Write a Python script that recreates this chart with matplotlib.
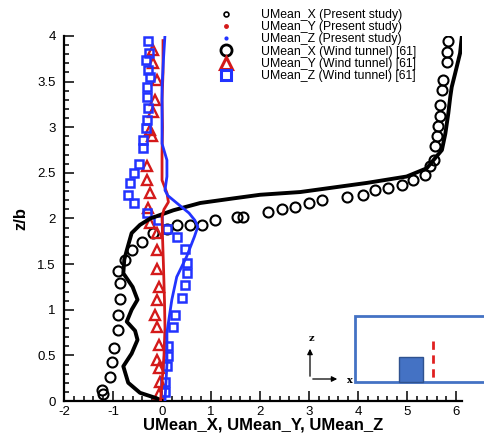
import matplotlib
matplotlib.use("Agg")
import matplotlib.pyplot as plt
from matplotlib.lines import Line2D
from matplotlib.patches import Rectangle, FancyArrowPatch
from matplotlib.ticker import MultipleLocator, FormatStrFormatter

plt.rcParams["font.family"] = ["Liberation Sans", "DejaVu Sans"]
plt.rcParams["axes.unicode_minus"] = False

# present study (CFD) profiles
cfd_x_z = [0.0, 0.03, 0.09, 0.2, 0.38, 0.52, 0.67, 0.77, 0.87, 1.0, 1.11, 1.25, 1.4, 1.55, 1.65,
           1.84, 1.93, 2.0, 2.09, 2.17, 2.22, 2.26, 2.29, 2.39, 2.46, 2.55, 2.68, 2.75, 2.93, 3.15,
           3.33, 3.44, 3.59, 3.81, 4.01]
cfd_x = [0.0, -0.11, -0.45, -0.69, -0.79, -0.62, -0.5, -0.55, -0.72, -0.62, -0.5, -0.6, -0.79, -0.77, -0.72,
         -0.62, -0.45, -0.24, 0.23, 0.78, 1.45, 2.0, 2.82, 4.18, 4.99, 5.4, 5.6, 5.71, 5.78, 5.84,
         5.88, 5.91, 5.98, 6.08, 6.12]

cfd_y_z = [0.0, 0.2, 0.5, 0.8, 1.1, 1.47, 1.8, 2.02, 2.1, 2.18, 2.28, 2.42, 2.7, 3.0, 3.3, 3.6, 3.95]
cfd_y = [-0.03, 0.0, 0.04, 0.06, 0.05, 0.03, 0.01, 0.0, 0.04, 0.13, 0.1, 0.0, 0.0, 0.01, 0.0, 0.02, 0.02]

cfd_zc_z = [0.0, 0.2, 0.4, 0.75, 1.11, 1.36, 1.58, 1.8, 1.91, 1.98, 2.06, 2.17, 2.25, 2.31, 2.46, 2.64,
            2.82, 3.1, 3.44, 3.75, 4.01]
cfd_zc = [0.06, 0.08, 0.1, 0.1, 0.2, 0.3, 0.5, 0.66, 0.73, 0.67, 0.55, 0.3, 0.12, 0.06, 0.1, 0.1,
          0.0, 0.0, 0.0, 0.03, 0.06]

# wind tunnel data [61]
wt_x_z = [3.94, 3.83, 3.72, 3.52, 3.41, 3.24, 3.12, 3.01, 2.9, 2.79, 2.64, 2.57, 2.48, 2.42, 2.37,
          2.33, 2.31, 2.26, 2.24, 2.2, 2.17, 2.13, 2.1, 2.07, 2.02, 2.02, 1.98, 1.93, 1.93, 1.93,
          1.89, 1.84, 1.74, 1.65, 1.54, 1.43, 1.29, 1.12, 0.94, 0.78, 0.58, 0.43, 0.26, 0.12, 0.08]
wt_x = [5.84, 5.81, 5.81, 5.74, 5.71, 5.67, 5.67, 5.64, 5.6, 5.57, 5.54, 5.47, 5.37, 5.13, 4.89,
        4.62, 4.35, 4.11, 3.77, 3.26, 2.99, 2.71, 2.44, 2.17, 1.66, 1.52, 1.08, 0.81, 0.57, 0.3,
        0.1, -0.18, -0.41, -0.62, -0.76, -0.89, -0.86, -0.86, -0.89, -0.89, -0.99, -1.03, -1.06, -1.23, -1.2]

wt_y_z = [3.85, 3.7, 3.52, 3.3, 3.17, 2.97, 2.9, 2.57, 2.42, 2.28, 2.11, 1.95, 1.84, 1.65, 1.45,
          1.25, 1.11, 0.94, 0.81, 0.61, 0.45, 0.36, 0.21, 0.08]
wt_y = [-0.18, -0.18, -0.11, -0.14, -0.18, -0.24, -0.21, -0.31, -0.31, -0.24, -0.28, -0.24, -0.11, -0.11, -0.11,
        -0.07, -0.11, -0.14, -0.11, -0.07, -0.11, -0.07, -0.04, -0.07]

wt_zc_z = [3.94, 3.81, 3.74, 3.63, 3.55, 3.44, 3.33, 3.21, 3.08, 2.99, 2.86, 2.77, 2.6, 2.5, 2.39,
           2.26, 2.17, 2.06, 1.98, 1.89, 1.8, 1.67, 1.51, 1.4, 1.27, 1.13, 0.94, 0.81, 0.6, 0.49,
           0.38, 0.21, 0.1]
wt_zc = [-0.28, -0.26, -0.33, -0.28, -0.24, -0.31, -0.31, -0.28, -0.31, -0.33, -0.38, -0.39, -0.48, -0.58, -0.65,
         -0.69, -0.58, -0.31, -0.09, 0.1, 0.3, 0.47, 0.5, 0.5, 0.47, 0.4, 0.27, 0.23, 0.13, 0.13,
         0.1, 0.06, 0.06]

labels = ["UMean_X (Present study)", "UMean_Y (Present study)", "UMean_Z (Present study)",
          "UMean_X (Wind tunnel) [61]", "UMean_Y (Wind tunnel) [61]", "UMean_Z (Wind tunnel) [61]"]

RED = "#d41a1a"
BLUE = "#2233ff"

fig = plt.figure(figsize=(4.84, 4.36), dpi=100)
ax = fig.add_axes([64 / 484, 1 - 401 / 436, 398 / 484, 365 / 436])

ax.plot(wt_x, wt_x_z, "o", ms=7.2, mfc="none", mec="black", mew=1.5, zorder=2)
ax.plot(wt_y, wt_y_z, "^", ms=6.5, mfc="none", mec=RED, mew=1.7, zorder=2)
ax.plot(wt_zc, wt_zc_z, "s", ms=6, mfc="none", mec=BLUE, mew=1.8, zorder=2)
ax.plot(cfd_x, cfd_x_z, color="black", lw=2.8, zorder=3)
ax.plot(cfd_y, cfd_y_z, color=RED, lw=2, zorder=4)
ax.plot(cfd_zc, cfd_zc_z, color=BLUE, lw=2, zorder=4)

ax.set_xlim(-2, 6.12)
ax.set_ylim(0, 4)
ax.xaxis.set_major_locator(MultipleLocator(1))
ax.xaxis.set_minor_locator(MultipleLocator(0.2))
ax.yaxis.set_major_locator(MultipleLocator(0.5))
ax.yaxis.set_minor_locator(MultipleLocator(0.1))
ax.yaxis.set_major_formatter(FormatStrFormatter("%g"))
ax.tick_params(which="both", direction="in", width=1.1, labelsize=9.5)
ax.tick_params(which="major", length=7)
ax.tick_params(axis="y", pad=6)
ax.tick_params(which="minor", length=3.5)
for s in ["top", "right"]:
    ax.spines[s].set_visible(False)
for s in ["left", "bottom"]:
    ax.spines[s].set_linewidth(1.6)

ax.set_xlabel("UMean_X, UMean_Y, UMean_Z", fontsize=12, fontweight="bold", labelpad=0)
ax.set_ylabel("z/b", fontsize=12, fontweight="bold", labelpad=6)

handles = [
    Line2D([], [], ls="none", marker="o", ms=3.5, mfc="none", mec="black", mew=1.2),
    Line2D([], [], ls="none", marker="o", ms=2.5, color=RED),
    Line2D([], [], ls="none", marker="o", ms=2, color=BLUE),
    Line2D([], [], ls="none", marker="o", ms=8, mfc="none", mec="black", mew=2),
    Line2D([], [], ls="none", marker="^", ms=8, mfc="none", mec=RED, mew=2.2),
    Line2D([], [], ls="none", marker="s", ms=7, mfc="none", mec=BLUE, mew=2.2),
]
fig.legend(handles, labels, loc="upper left", bbox_to_anchor=(215 / 484, 1 - 9 / 436),
           frameon=False, fontsize=8.8, handlelength=1.8, handletextpad=2.0,
           labelspacing=0.02, borderpad=0, borderaxespad=0)

# small schematic of the domain (pixel coordinates)
ov = fig.add_axes([0, 0, 1, 1], zorder=5)
ov.set_xlim(0, 484)
ov.set_ylim(436, 0)
ov.axis("off")
ov.patch.set_alpha(0)
ov.add_patch(Rectangle((355, 316), 140, 66, facecolor="white", edgecolor="#4472c4", lw=2))
ov.add_patch(Rectangle((399, 357), 24, 25, facecolor="#4472c4", edgecolor="#2f528f", lw=1))
ov.plot([433, 433], [341, 382], color="#e02020", lw=2, ls=(0, (3, 2)))
ov.add_patch(FancyArrowPatch((310, 379), (310, 346), arrowstyle="-|>", mutation_scale=8, lw=0.9, color="black"))
ov.add_patch(FancyArrowPatch((310, 379), (340, 379), arrowstyle="-|>", mutation_scale=8, lw=0.9, color="black"))
ov.text(311, 338, "z", family="DejaVu Serif", fontweight="bold", fontsize=7, ha="center", va="center")
ov.text(350, 380, "x", family="DejaVu Serif", fontweight="bold", fontsize=7, ha="center", va="center")

fig.savefig("out.png", dpi=100)
